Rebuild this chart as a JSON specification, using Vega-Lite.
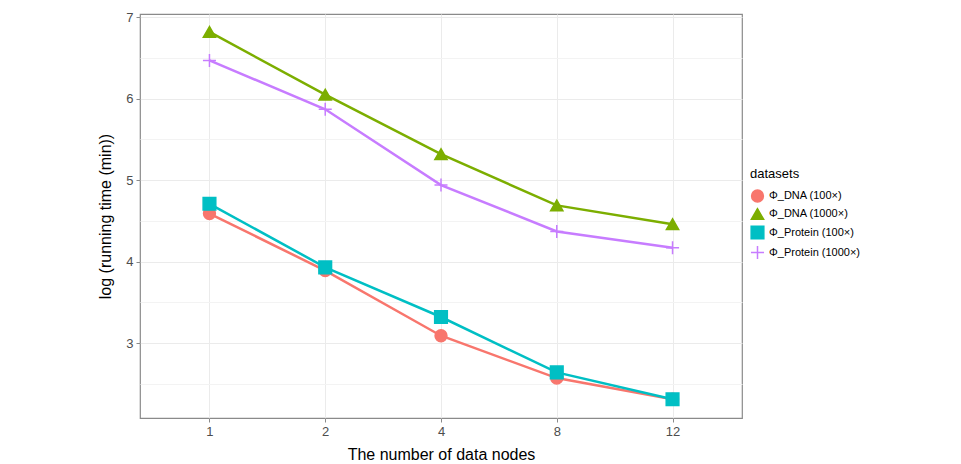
{
  "$schema": "https://vega.github.io/schema/vega-lite/v6.json",
  "width": 602,
  "height": 404,
  "autosize": {"type": "none"},
  "padding": {"left": 140, "top": 14, "right": 219, "bottom": 46},
  "background": "white",
  "data": {
    "values": [
      {"nodes": "1", "dataset": "Φ_DNA (100×)", "logtime": 4.59},
      {"nodes": "2", "dataset": "Φ_DNA (100×)", "logtime": 3.89},
      {"nodes": "4", "dataset": "Φ_DNA (100×)", "logtime": 3.09},
      {"nodes": "8", "dataset": "Φ_DNA (100×)", "logtime": 2.57},
      {"nodes": "12", "dataset": "Φ_DNA (100×)", "logtime": 2.31},
      {"nodes": "1", "dataset": "Φ_DNA (1000×)", "logtime": 6.82},
      {"nodes": "2", "dataset": "Φ_DNA (1000×)", "logtime": 6.05},
      {"nodes": "4", "dataset": "Φ_DNA (1000×)", "logtime": 5.32},
      {"nodes": "8", "dataset": "Φ_DNA (1000×)", "logtime": 4.69},
      {"nodes": "12", "dataset": "Φ_DNA (1000×)", "logtime": 4.46},
      {"nodes": "1", "dataset": "Φ_Protein (100×)", "logtime": 4.71},
      {"nodes": "2", "dataset": "Φ_Protein (100×)", "logtime": 3.93},
      {"nodes": "4", "dataset": "Φ_Protein (100×)", "logtime": 3.32},
      {"nodes": "8", "dataset": "Φ_Protein (100×)", "logtime": 2.64},
      {"nodes": "12", "dataset": "Φ_Protein (100×)", "logtime": 2.31},
      {"nodes": "1", "dataset": "Φ_Protein (1000×)", "logtime": 6.47},
      {"nodes": "2", "dataset": "Φ_Protein (1000×)", "logtime": 5.87},
      {"nodes": "4", "dataset": "Φ_Protein (1000×)", "logtime": 4.94},
      {"nodes": "8", "dataset": "Φ_Protein (1000×)", "logtime": 4.37},
      {"nodes": "12", "dataset": "Φ_Protein (1000×)", "logtime": 4.17}
    ]
  },
  "encoding": {
    "x": {
      "field": "nodes",
      "type": "ordinal",
      "sort": ["1", "2", "4", "8", "12"],
      "scale": {"type": "point", "padding": 0.6},
      "axis": {
        "title": "The number of data nodes",
        "labelAngle": 0,
        "labelFontSize": 13,
        "labelColor": "#4D4D4D",
        "labelPadding": 3,
        "titleFontSize": 16,
        "titleFontWeight": "normal",
        "titleColor": "#000000",
        "titlePadding": 8,
        "tickSize": 4,
        "tickColor": "#8a8a8a",
        "domain": false,
        "grid": true,
        "gridColor": "#EBEBEB",
        "gridWidth": 1
      }
    },
    "y": {
      "field": "logtime",
      "type": "quantitative",
      "scale": {"domain": [2.08, 7.04], "nice": false, "zero": false},
      "axis": {
        "title": "log (running time (min))",
        "values": [2.5, 3, 3.5, 4, 4.5, 5, 5.5, 6, 6.5, 7],
        "format": "~g",
        "labelExpr": "datum.value % 1 === 0 ? datum.label : ''",
        "labelFontSize": 13,
        "labelColor": "#4D4D4D",
        "labelPadding": 3,
        "titleFontSize": 16,
        "titleFontWeight": "normal",
        "titleColor": "#000000",
        "titlePadding": 12,
        "tickSize": 4,
        "tickColor": "#8a8a8a",
        "tickOpacity": {"condition": {"test": "datum.value % 1 === 0", "value": 1}, "value": 0},
        "domain": false,
        "grid": true,
        "gridColor": {"condition": {"test": "datum.value % 1 === 0", "value": "#EBEBEB"}, "value": "#F3F3F3"},
        "gridWidth": 1
      }
    }
  },
  "layer": [
    {
      "mark": {"type": "line", "strokeWidth": 2.5},
      "encoding": {
        "color": {
          "field": "dataset",
          "type": "nominal",
          "sort": "ascending",
          "scale": {"range": ["#7CAE00", "#F8766D", "#C77CFF", "#00BFC4"]},
          "legend": null
        }
      }
    },
    {
      "mark": {"type": "point", "filled": true, "opacity": 1, "strokeWidth": 1.5},
      "encoding": {
        "fill": {
          "field": "dataset",
          "type": "nominal",
          "scale": {
            "domain": ["Φ_DNA (100×)", "Φ_DNA (1000×)", "Φ_Protein (100×)", "Φ_Protein (1000×)"],
            "range": ["#F8766D", "#7CAE00", "#00BFC4", "#C77CFF"]
          },
          "legend": {"title": "datasets"}
        },
        "shape": {
          "field": "dataset",
          "type": "nominal",
          "scale": {
            "domain": ["Φ_DNA (100×)", "Φ_DNA (1000×)", "Φ_Protein (100×)", "Φ_Protein (1000×)"],
            "range": ["circle", "triangle-up", "square", "M-1,0L1,0M0,-1L0,1"]
          },
          "legend": {"title": "datasets"}
        },
        "stroke": {
          "field": "dataset",
          "type": "nominal",
          "scale": {
            "domain": ["Φ_DNA (100×)", "Φ_DNA (1000×)", "Φ_Protein (100×)", "Φ_Protein (1000×)"],
            "range": ["#F8766D", "#7CAE00", "#00BFC4", "#C77CFF"]
          },
          "legend": {"title": "datasets"}
        },
        "size": {
          "field": "dataset",
          "type": "nominal",
          "scale": {
            "domain": ["Φ_DNA (100×)", "Φ_DNA (1000×)", "Φ_Protein (100×)", "Φ_Protein (1000×)"],
            "range": [140, 170, 130, 260]
          },
          "legend": {"title": "datasets"}
        }
      }
    }
  ],
  "config": {
    "font": "Liberation Sans",
    "view": {"stroke": "#8a8a8a", "strokeWidth": 1.2},
    "legend": {
      "orient": "none",
      "legendX": 610,
      "legendY": 154,
      "titleFontSize": 13,
      "titleFontWeight": "normal",
      "titleColor": "#000000",
      "titlePadding": 8,
      "labelFontSize": 11,
      "labelColor": "#000000",
      "rowPadding": 0,
      "symbolOpacity": 1
    }
  }
}
